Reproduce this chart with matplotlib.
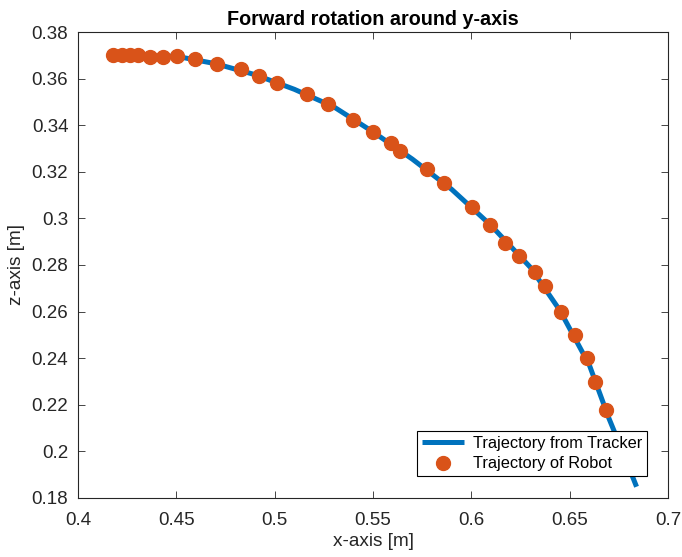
import matplotlib
matplotlib.use("Agg")
import matplotlib.pyplot as plt
from matplotlib.ticker import FuncFormatter

# trajectory from tracker
tracker_x = [0.418, 0.43, 0.45, 0.47, 0.49, 0.51, 0.53, 0.55, 0.57, 0.59,
             0.61, 0.63, 0.645, 0.66, 0.67, 0.678, 0.684]
tracker_z = [0.3702, 0.3700, 0.3697, 0.3665, 0.3618, 0.3555, 0.3480, 0.3372, 0.3255, 0.3125,
             0.2970, 0.2790, 0.2605, 0.2370, 0.2140, 0.1975, 0.1847]

# trajectory of robot (orange dots)
robot_x = [0.418, 0.4222, 0.4264, 0.4307, 0.4366, 0.4431, 0.4505, 0.4596, 0.4705, 0.4829,
           0.492, 0.501, 0.5163, 0.527, 0.5397, 0.550, 0.5591, 0.5637, 0.5774, 0.5861,
           0.6003, 0.6095, 0.6171, 0.6242, 0.6323, 0.6374, 0.6456, 0.6527, 0.6586, 0.663,
           0.6684]
robot_z = [0.3702, 0.3702, 0.3702, 0.3702, 0.3693, 0.3693, 0.3698, 0.3684, 0.3664, 0.3642,
           0.3612, 0.3583, 0.3534, 0.3492, 0.3423, 0.3372, 0.3324, 0.329, 0.3213, 0.3152,
           0.3049, 0.2972, 0.2895, 0.2839, 0.277, 0.271, 0.2598, 0.2499, 0.2399, 0.2298,
           0.2176]

x_ticks = [0.4, 0.45, 0.5, 0.55, 0.6, 0.65, 0.7]
z_ticks = [0.18, 0.2, 0.22, 0.24, 0.26, 0.28, 0.3, 0.32, 0.34, 0.36, 0.38]

plt.rcParams['font.family'] = ['Liberation Sans', 'DejaVu Sans']
axcol = '#262626'

fig = plt.figure(figsize=(6.82, 5.57), dpi=100)
ax = fig.add_axes([0.1144, 0.1065, 0.8651, 0.8355])

ax.plot(tracker_x, tracker_z, color='#0072BD', lw=3.6, label='Trajectory from Tracker',
        solid_capstyle='butt')
ax.plot(robot_x, robot_z, 'o', color='#D95319', ms=10, lw=0,
        label='Trajectory of Robot')

ax.set_xlim(0.4, 0.7)
ax.set_ylim(0.18, 0.38)
ax.set_xticks(x_ticks)
ax.set_yticks(z_ticks)
fmt = FuncFormatter(lambda v, p: ('%g' % round(v, 4)))
ax.xaxis.set_major_formatter(fmt)
ax.yaxis.set_major_formatter(fmt)
ax.tick_params(direction='in', top=True, right=True, length=5, width=0.6,
               colors=axcol, labelsize=13.5, labelcolor=axcol)
ax.tick_params(axis='x', pad=10)
ax.tick_params(axis='y', pad=7)
for s in ax.spines.values():
    s.set_color(axcol)
    s.set_linewidth(0.8)

ax.set_xlabel('x-axis [m]', fontsize=13.7, color=axcol, labelpad=3)
ax.set_ylabel('z-axis [m]', fontsize=13.7, color=axcol, labelpad=5)
ax.set_title('Forward rotation around y-axis', fontsize=14.2, fontweight='bold',
             color='black', pad=5)

leg = ax.legend(loc='lower right', fontsize=11.8, frameon=True, fancybox=False,
                edgecolor='black', framealpha=1, borderaxespad=1.3, handlelength=2.6,
                borderpad=0.3, labelspacing=0.35, handletextpad=0.5)
leg.get_frame().set_linewidth(0.8)

fig.savefig('out.png', dpi=100)
